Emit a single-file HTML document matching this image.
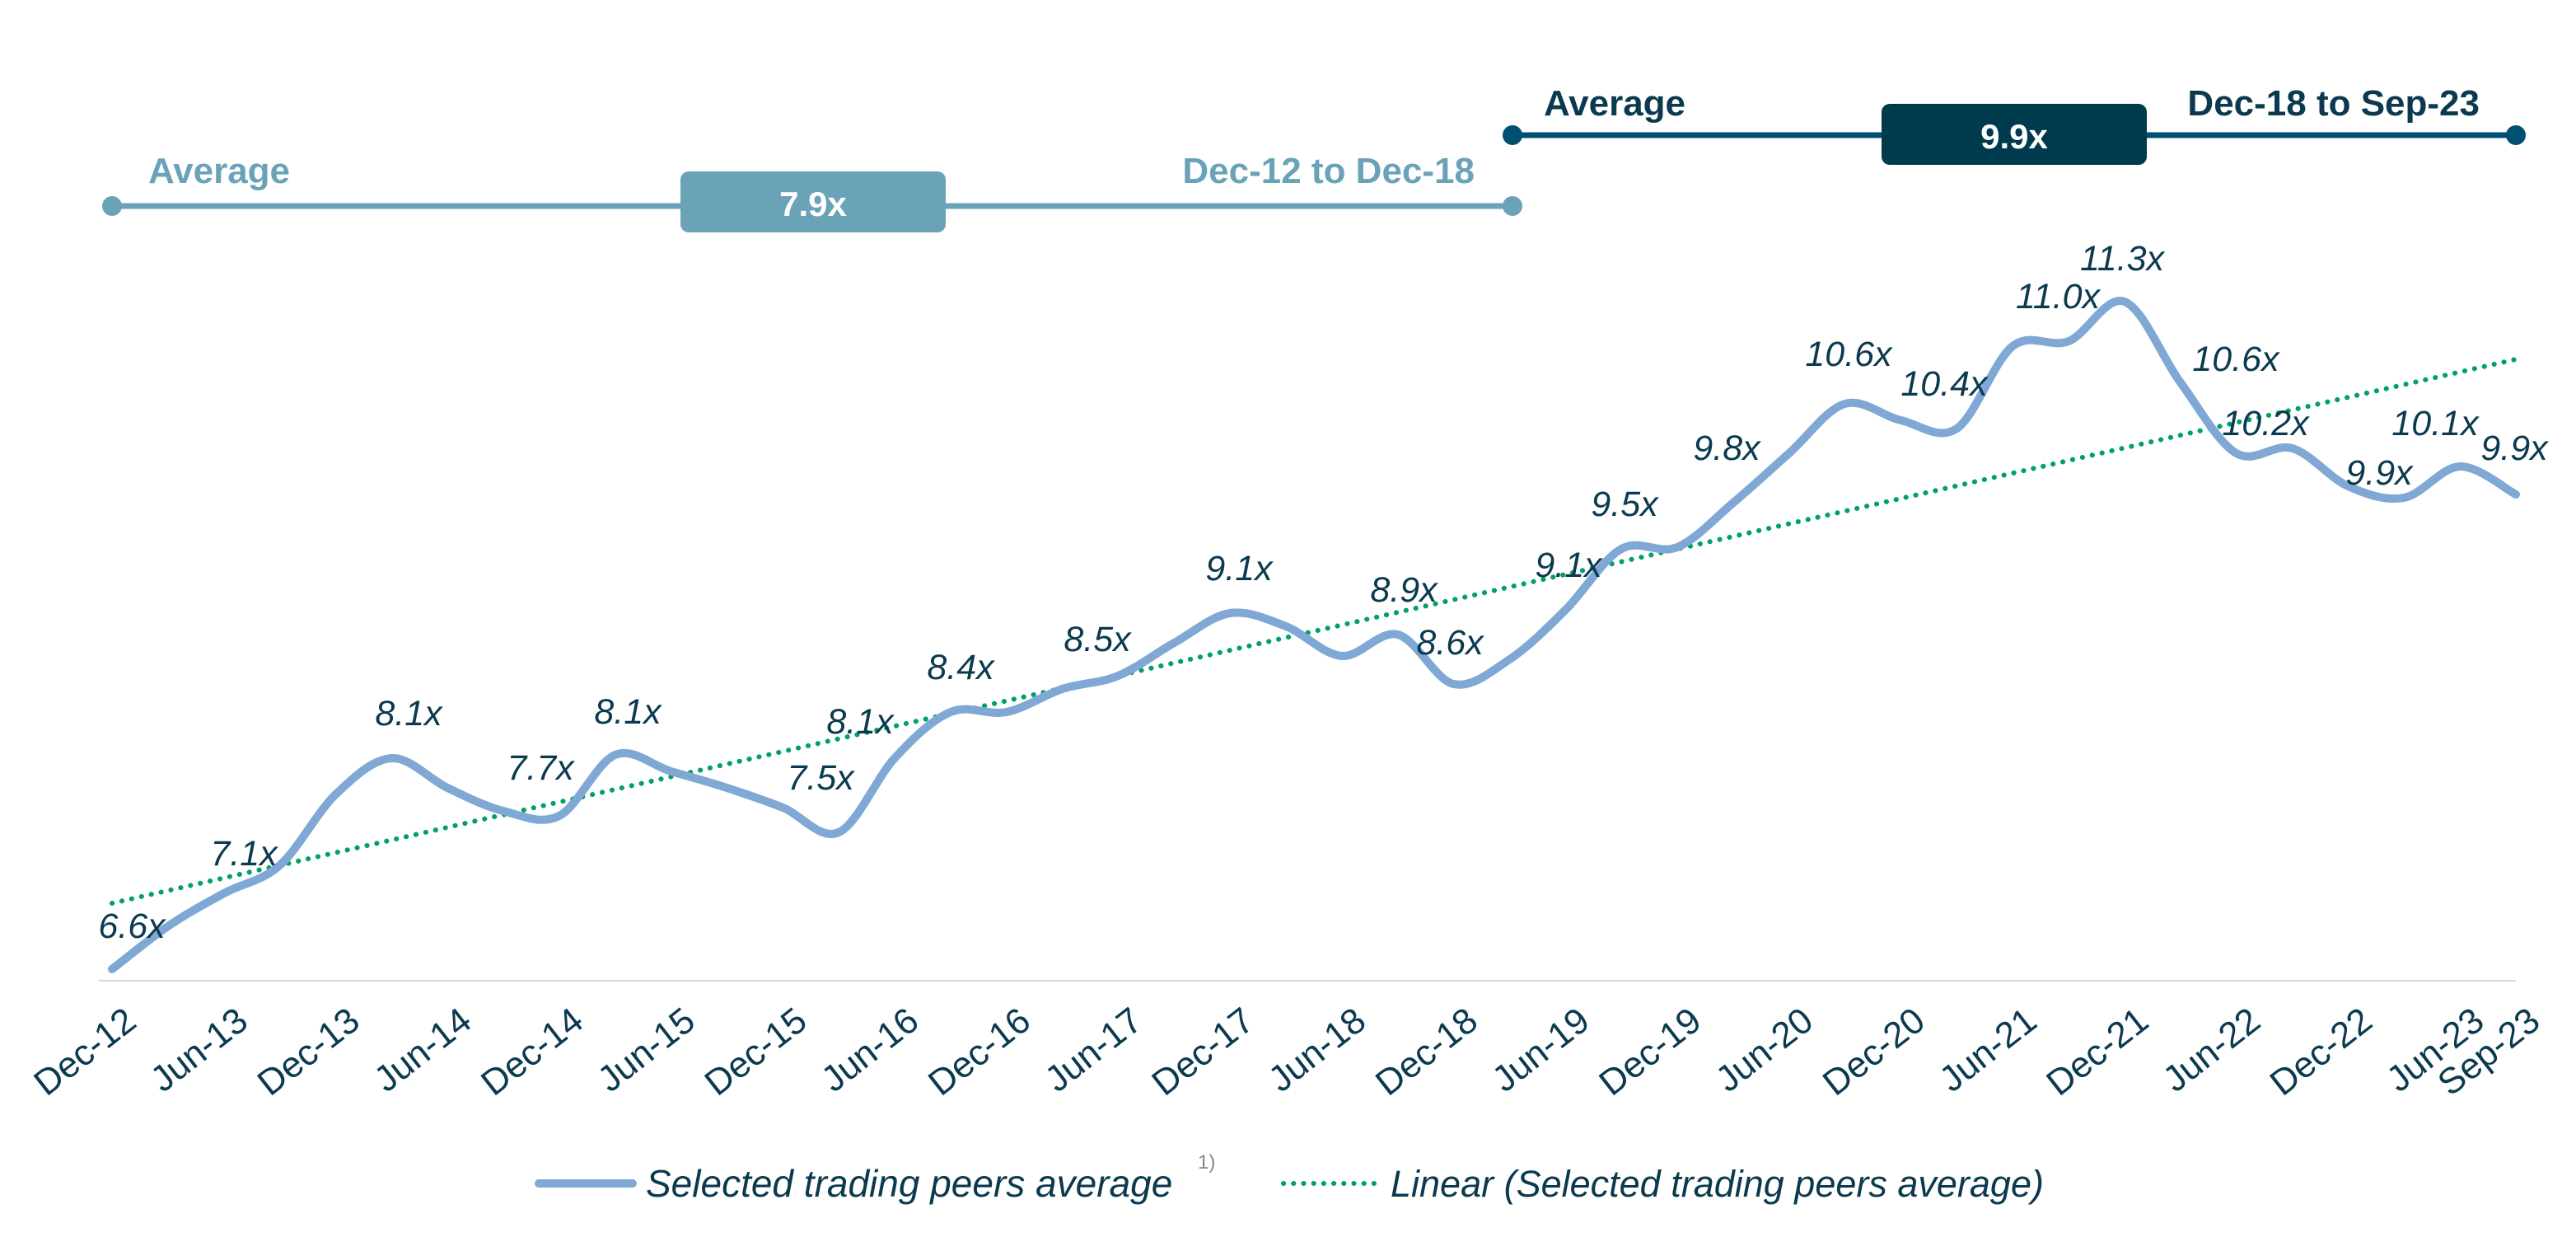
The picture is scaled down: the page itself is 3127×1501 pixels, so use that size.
<!DOCTYPE html>
<html><head><meta charset="utf-8">
<style>
html,body{margin:0;padding:0;background:#fff;}
svg{display:block;}
text{font-family:"Liberation Sans",sans-serif;}
.lab{font-style:italic;font-size:21.5px;fill:#0b3a4f;text-anchor:middle;}
.xl{font-size:22px;fill:#0b3a4f;text-anchor:end;}
</style></head>
<body>
<svg width="3127" height="1501" viewBox="0 0 1563.5 750.5" xmlns="http://www.w3.org/2000/svg">
<line x1="68" y1="125" x2="918" y2="125" stroke="#6aa3b8" stroke-width="3.5"/>
<circle cx="68" cy="125" r="6" fill="#6aa3b8"/>
<circle cx="918" cy="125" r="6" fill="#6aa3b8"/>
<rect x="413" y="104" width="161" height="37" rx="5" fill="#6aa3b8"/>
<text x="493.5" y="131" font-size="21" font-weight="bold" fill="#fff" text-anchor="middle">7.9x</text>
<text x="90" y="111" font-size="22" font-weight="bold" fill="#6aa3b8">Average</text>
<text x="895" y="111" font-size="22" font-weight="bold" fill="#6aa3b8" text-anchor="end">Dec-12 to Dec-18</text>
<line x1="918" y1="82" x2="1527" y2="82" stroke="#005074" stroke-width="3.5"/>
<circle cx="918" cy="82" r="6" fill="#005074"/>
<circle cx="1527" cy="82" r="6" fill="#005074"/>
<rect x="1142" y="63" width="161" height="37" rx="5" fill="#003a4d"/>
<text x="1222.5" y="90" font-size="21" font-weight="bold" fill="#fff" text-anchor="middle">9.9x</text>
<text x="937" y="70" font-size="22" font-weight="bold" fill="#0b3a4f">Average</text>
<text x="1505" y="70" font-size="22" font-weight="bold" fill="#0b3a4f" text-anchor="end">Dec-18 to Sep-23</text>
<line x1="60" y1="595" x2="1527" y2="595" stroke="#d9d9d9" stroke-width="1"/>
<line x1="68" y1="548" x2="1527" y2="218" stroke="#00a06a" stroke-width="3" stroke-linecap="round" stroke-dasharray="0.1 6"/>
<path id="ser" d="" fill="none" stroke="#7fa8d4" stroke-width="5" stroke-linecap="round" stroke-linejoin="round"/>
<g class="lab">
<text x="80" y="569">6.6x</text>
<text x="148" y="525">7.1x</text>
<text x="248" y="440">8.1x</text>
<text x="328" y="473">7.7x</text>
<text x="381" y="439">8.1x</text>
<text x="498" y="479">7.5x</text>
<text x="522" y="445">8.1x</text>
<text x="583" y="412">8.4x</text>
<text x="666" y="395">8.5x</text>
<text x="752" y="352">9.1x</text>
<text x="852" y="365">8.9x</text>
<text x="880" y="397">8.6x</text>
<text x="952" y="350">9.1x</text>
<text x="986" y="313">9.5x</text>
<text x="1048" y="279">9.8x</text>
<text x="1122" y="222">10.6x</text>
<text x="1180" y="240">10.4x</text>
<text x="1249" y="187">11.0x</text>
<text x="1288" y="164">11.3x</text>
<text x="1357" y="225">10.6x</text>
<text x="1375" y="264">10.2x</text>
<text x="1444" y="294">9.9x</text>
<text x="1478" y="264">10.1x</text>
<text x="1526" y="279">9.9x</text>
</g>
<g id="xl"></g>
<line x1="327" y1="718" x2="384" y2="718" stroke="#7fa8d4" stroke-width="5" stroke-linecap="round"/>
<text x="392" y="726" font-size="23" font-style="italic" fill="#0b3a4f">Selected trading peers average</text>
<text x="727" y="709" font-size="12" fill="#888">1)</text>
<line x1="779" y1="718" x2="836" y2="718" stroke="#00a06a" stroke-width="3" stroke-linecap="round" stroke-dasharray="0.1 6"/>
<text x="844" y="726" font-size="22.5" font-style="italic" fill="#0b3a4f">Linear (Selected trading peers average)</text>
</svg>
<script>
var ys=[588,562,542,525,482,460,478,492,495,458,468,478,490,505,460,432,432,418,410,390,372,380,398,385,415,400,370,333,332,305,275,245,255,260,210,207,183,232,275,272,295,302,283,300];
var dx=(1527-68)/43;
var P=ys.map(function(y,i){return [68+i*dx,y];});
var d="M"+P[0][0]+","+P[0][1];
for(var i=0;i<P.length-1;i++){
 var p0=P[Math.max(i-1,0)],p1=P[i],p2=P[i+1],p3=P[Math.min(i+2,P.length-1)];
 var c1=[p1[0]+(p2[0]-p0[0])/6,p1[1]+(p2[1]-p0[1])/6];
 var c2=[p2[0]-(p3[0]-p1[0])/6,p2[1]-(p3[1]-p1[1])/6];
 d+=" C"+c1[0].toFixed(1)+","+c1[1].toFixed(1)+" "+c2[0].toFixed(1)+","+c2[1].toFixed(1)+" "+p2[0].toFixed(1)+","+p2[1].toFixed(1);
}
document.getElementById("ser").setAttribute("d",d);
var labs=["Dec-12","Jun-13","Dec-13","Jun-14","Dec-14","Jun-15","Dec-15","Jun-16","Dec-16","Jun-17","Dec-17","Jun-18","Dec-18","Jun-19","Dec-19","Jun-20","Dec-20","Jun-21","Dec-21","Jun-22","Dec-22","Jun-23","Sep-23"];
var g=document.getElementById("xl"),ns="http://www.w3.org/2000/svg";
labs.forEach(function(s,k){
 var q=k<22?k*2:43;var x=68+q*dx+16,y=622;
 var t=document.createElementNS(ns,"text");
 t.setAttribute("class","xl");t.setAttribute("x",x);t.setAttribute("y",y);
 t.setAttribute("transform","rotate(-38 "+x+" "+y+")");
 t.textContent=s;g.appendChild(t);
});
</script>
</body></html>
